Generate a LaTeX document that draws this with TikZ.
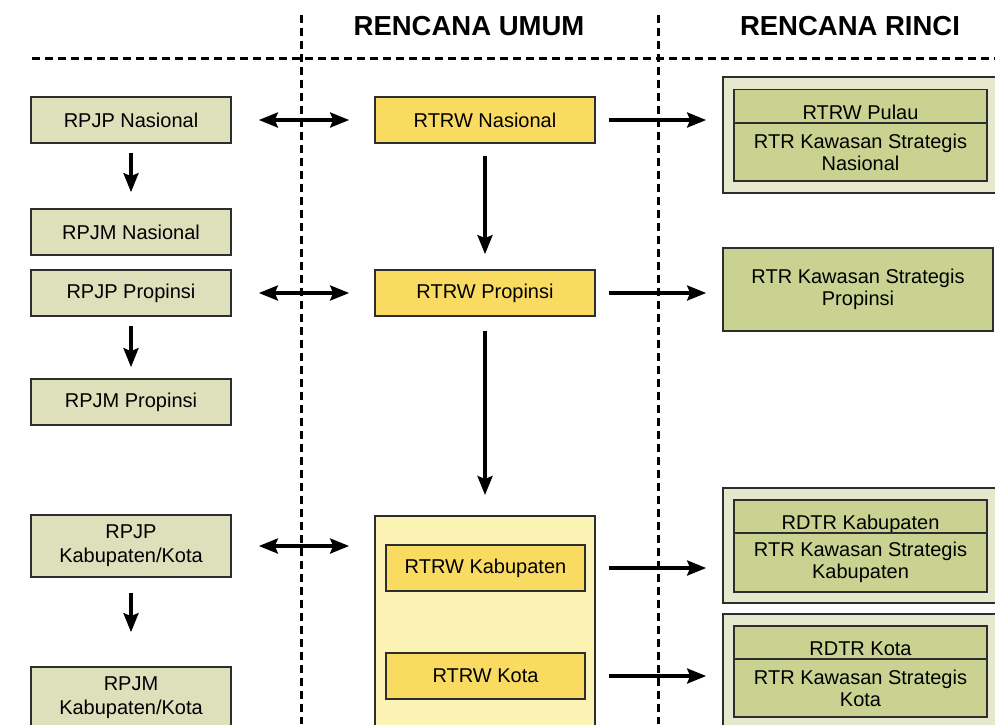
\documentclass[tikz,border=0pt]{standalone}
\usepackage{fontspec}
\setmainfont{Liberation Sans}
\usetikzlibrary{arrows.meta}

\definecolor{boxline}{RGB}{45,45,45}
\definecolor{pjfill}{RGB}{221,224,187}
\definecolor{goldfill}{RGB}{250,219,98}
\definecolor{palefill}{RGB}{250,243,180}
\definecolor{outerfill}{RGB}{230,232,205}
\definecolor{olivefill}{RGB}{201,210,145}

\begin{document}
\begin{tikzpicture}[x=1pt,y=-1pt,
  pjbox/.style={draw=boxline,fill=pjfill,line width=1.7pt,minimum width=200pt,minimum height=46pt,
    inner sep=0pt,align=center,font=\fontsize{20}{24}\selectfont},
  rtrwbox/.style={draw=boxline,fill=goldfill,line width=1.7pt,minimum width=220pt,minimum height=46pt,
    inner sep=0pt,align=center,font=\fontsize{20}{22}\selectfont},
  outerbox/.style={draw=boxline,fill=outerfill,line width=1.7pt,minimum width=277pt,inner sep=0pt},
  headbox/.style={draw=boxline,fill=olivefill,line width=1.7pt,minimum width=253pt,minimum height=33pt,
    inner sep=0pt,text height=26pt,text depth=0pt,font=\fontsize{20}{22}\selectfont},
  restbox/.style={draw=boxline,fill=olivefill,line width=1.7pt,minimum width=253pt,
    inner sep=0pt,align=center,font=\fontsize{20}{22}\selectfont},
  title/.style={font=\fontsize{27.5}{30}\selectfont\bfseries},
  divider/.style={dashed,line width=3pt,dash pattern=on 8pt off 5pt},
  flow/.style={line width=3.4pt,-{Stealth[length=19pt,width=15pt,inset=3pt]}},
  both/.style={line width=3.4pt,{Stealth[length=19pt,width=15pt,inset=3pt]}-{Stealth[length=19pt,width=15pt,inset=3pt]}}]

\useasboundingbox (0,0) rectangle (995,724);
\clip (0,0) rectangle (995,724);

\node[title] (umum) at (469,26) {RENCANA UMUM};
\node[title] (rinci) at (850,26) {RENCANA RINCI};

\draw[divider] (32,58)--(995,58);
\draw[divider] (301,15)--(301,724);
\draw[divider] (658,15)--(658,724);

\node[pjbox] (rpjpNas) at (131,120) {RPJP Nasional};
\node[pjbox] (rpjmNas) at (131,232) {RPJM Nasional};
\node[pjbox] (rpjpProp) at (131,293) {RPJP Propinsi};
\node[pjbox] (rpjmProp) at (131,402) {RPJM Propinsi};
\node[pjbox,minimum height=62pt] (rpjpKab) at (131,546) {RPJP\\Kabupaten/Kota};
\node[pjbox,minimum height=62pt] (rpjmKab) at (131,698) {RPJM\\Kabupaten/Kota};

\node[rtrwbox] (rtrwNas) at (485,120) {RTRW Nasional};
\node[rtrwbox] (rtrwProp) at (485,293) {RTRW Propinsi};
\node[rtrwbox,fill=palefill,minimum height=240pt,anchor=north] (kabkota) at (485,515) {};
\node[rtrwbox,minimum width=199pt] (rtrwKab) at (485.5,568) {RTRW Kabupaten};
\node[rtrwbox,minimum width=199pt] (rtrwKota) at (485.5,676) {RTRW Kota};

\node[outerbox,minimum height=116pt] (rinciNas) at (861.5,135) {};
\node[headbox] (pulau) at (860.5,106) {RTRW Pulau};
\node[restbox,minimum height=58pt] (ksNas) at (860.5,152) {RTR Kawasan Strategis\\Nasional};

\node[restbox,minimum width=270pt,minimum height=83pt] (ksProp) at (858,289.5) {RTR Kawasan Strategis\\Propinsi};

\node[outerbox,minimum height=115pt] (rinciKab) at (861.5,545.5) {};
\node[headbox] (rdtrKab) at (860.5,516.5) {RDTR Kabupaten};
\node[restbox,minimum height=59pt] (ksKab) at (860.5,562.5) {RTR Kawasan Strategis\\Kabupaten};

\node[outerbox,minimum height=115pt] (rinciKota) at (861.5,671.5) {};
\node[headbox] (rdtrKota) at (860.5,642.5) {RDTR Kota};
\node[restbox,minimum height=58pt] (ksKota) at (860.5,688) {RTR Kawasan Strategis\\Kota};

\draw[flow,shorten <=9pt,shorten >=16pt] (rpjpNas.south)--(rpjmNas.north);
\draw[flow,shorten <=9pt,shorten >=11pt] (rpjpProp.south)--(rpjmProp.north);
\draw[flow,shorten <=15pt,shorten >=34pt] (rpjpKab.south)--(rpjmKab.north);

\draw[both,shorten <=27pt,shorten >=25pt] (rpjpNas.east)--(rtrwNas.west);
\draw[both,shorten <=27pt,shorten >=25pt] (rpjpProp.east)--(rtrwProp.west);
\draw[both,shorten <=27pt,shorten >=25pt] (rpjpKab.east)--(rpjpKab.east -| kabkota.west);

\draw[flow,shorten <=12pt,shorten >=15pt] (rtrwNas.south)--(rtrwProp.north);
\draw[flow,shorten <=14pt,shorten >=20pt] (rtrwProp.south)--(kabkota.north);

\draw[flow,shorten <=13pt,shorten >=16pt] (rtrwNas.east)--(rtrwNas.east -| rinciNas.west);
\draw[flow,shorten <=13pt,shorten >=16pt] (rtrwProp.east)--(rtrwProp.east -| ksProp.west);
\draw[flow,shorten <=23pt,shorten >=16pt] (rtrwKab.east)--(rtrwKab.east -| rinciKab.west);
\draw[flow,shorten <=23pt,shorten >=16pt] (rtrwKota.east)--(rtrwKota.east -| rinciKota.west);
\end{tikzpicture}
\end{document}
